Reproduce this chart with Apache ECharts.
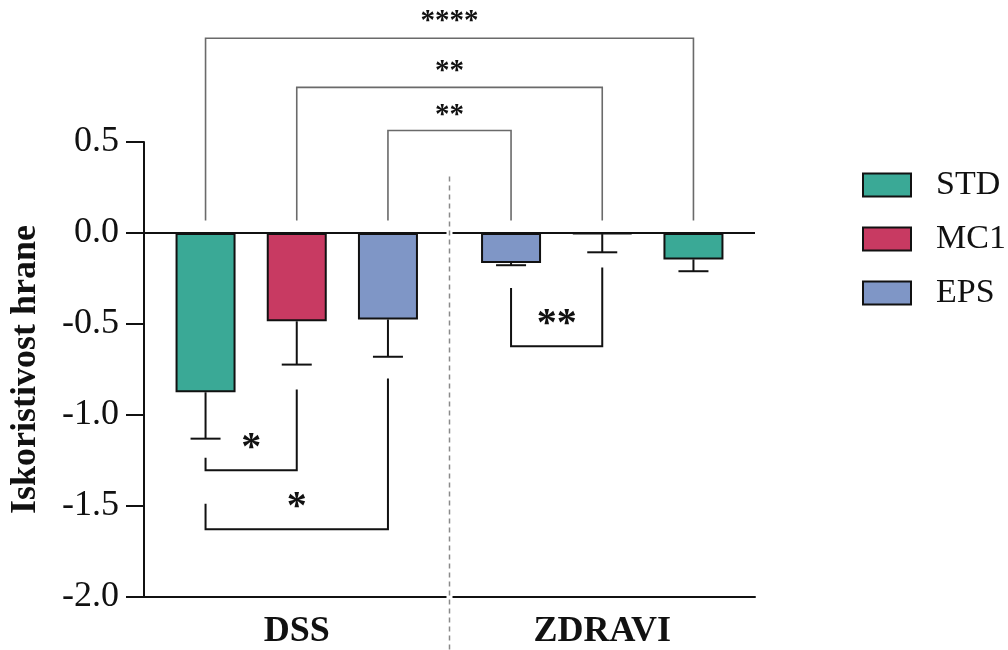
<!DOCTYPE html>
<html>
<head>
<meta charset="utf-8">
<script src="https://cdn.jsdelivr.net/npm/echarts@6/dist/echarts.min.js"></script>
<style>
  html, body { margin: 0; padding: 0; background: #ffffff; }
  #chart { width: 1008px; height: 650px; }
</style>
</head>
<body>
<div id="chart"></div>
<script>
// ---------------- data ----------------
const categories = ['DSS', 'ZDRAVI'];
const treatments = ['STD', 'MC1', 'EPS'];
// order of bars inside each group (left to right)
const groupOrder = [['STD', 'MC1', 'EPS'], ['EPS', 'MC1', 'STD']];
// means per treatment, indexed by category (DSS, ZDRAVI)
const meanSTD = [-0.875, -0.145];
const meanMC1 = [-0.485, -0.006];
const meanEPS = [-0.475, -0.165];
// error (one-sided, downward)
const errSTD = [0.255, 0.065];
const errMC1 = [0.238, 0.100];
const errEPS = [0.205, 0.012];

const yTickMin = -2.0;
const yTickMax = 0.5;
const yTickStep = 0.5;

// significance brackets: [groupIndex, slotIndex] endpoints
const sigLabels  = ['****', '**', '**', '*', '*', '**'];
const sigFrom    = [[0, 0], [0, 1], [0, 2], [0, 0], [0, 0], [1, 0]];
const sigTo      = [[1, 2], [1, 1], [1, 0], [0, 1], [0, 2], [1, 1]];
const sigLevel   = [1.07, 0.80, 0.563, -1.303, -1.628, -0.622];
const sigFromEnd = [0.069, 0.069, 0.069, -1.235, -1.487, -0.302];
const sigToEnd   = [0.069, 0.069, 0.069, -0.860, -0.800, -0.189];
const sigTextY   = [1.18, 0.907, 0.667, -1.157, -1.482, -0.477];

const dividerTop = 0.31;

// ---------------- styles ----------------
const colors = { STD: '#3aa996', MC1: '#c83a62', EPS: '#7f96c6' };
const FONT = "'Liberation Serif', 'Times New Roman', serif";
const BAR_WIDTH = 60;
const BAR_GAP = 0.52;
const CAP_WIDTH = 30;

const means = { STD: meanSTD, MC1: meanMC1, EPS: meanEPS };
const errs = { STD: errSTD, MC1: errMC1, EPS: errEPS };

function slotOffset(slot) {
  return (slot - 1) * BAR_WIDTH * (1 + BAR_GAP);
}

// bar series, one per slot position
const barSeries = [0, 1, 2].map(function (slot) {
  const legendName = groupOrder[0][slot];
  const s = {
    name: legendName,
    type: 'bar',
    barWidth: BAR_WIDTH,
    barGap: (BAR_GAP * 100) + '%',
    itemStyle: { color: colors[legendName], borderColor: '#111', borderWidth: 2 },
    data: categories.map(function (c, g) {
      const t = groupOrder[g][slot];
      return { value: means[t][g], itemStyle: { color: colors[t], borderColor: '#111', borderWidth: 2 } };
    }),
    z: 3,
    animation: false
  };
  if (slot === 0) {
    s.markLine = {
      silent: true,
      symbol: ['none', 'none'],
      label: { show: false },
      lineStyle: { color: '#111', width: 2, type: 'solid' },
      data: [{ yAxis: 0 }],
      animation: false
    };
  }
  return s;
});

// error bar data
const errData = [];
categories.forEach(function (c, g) {
  groupOrder[g].forEach(function (t, slot) {
    errData.push([g, means[t][g], errs[t][g], slot]);
  });
});

const errorSeries = {
  type: 'custom',
  name: 'err',
  clip: false,
  z: 5,
  encode: { x: 0, y: 1 },
  data: errData,
  renderItem: function (params, api) {
    const g = api.value(0);
    const m = api.value(1);
    const e = api.value(2);
    const slot = api.value(3);
    const p0 = api.coord([g, m]);
    const p1 = api.coord([g, m - e]);
    const x = p0[0] + slotOffset(slot);
    return {
      type: 'group',
      children: [
        { type: 'line', shape: { x1: x, y1: p0[1], x2: x, y2: p1[1] },
          style: { stroke: '#111', lineWidth: 2 } },
        { type: 'line', shape: { x1: x - CAP_WIDTH / 2, y1: p1[1], x2: x + CAP_WIDTH / 2, y2: p1[1] },
          style: { stroke: '#111', lineWidth: 2 } }
      ]
    };
  },
  animation: false
};

const sigSeries = {
  type: 'custom',
  name: 'sig',
  clip: false,
  z: 6,
  encode: { x: 0, y: 1 },
  data: sigLabels.map(function (s, i) { return [sigFrom[i][0], sigLevel[i], i]; }),
  renderItem: function (params, api) {
    const i = api.value(2);
    const top = sigLevel[i] > 0;
    const f = sigFrom[i], t = sigTo[i];
    const xa = api.coord([f[0], 0])[0] + slotOffset(f[1]);
    const xb = api.coord([t[0], 0])[0] + slotOffset(t[1]);
    const yl = api.coord([0, sigLevel[i]])[1];
    const ya = api.coord([0, sigFromEnd[i]])[1];
    const yb = api.coord([0, sigToEnd[i]])[1];
    const fs = top ? 29 : 40;
    const yt = api.coord([0, sigTextY[i]])[1] + 0.13 * fs;
    return {
      type: 'group',
      children: [
        { type: 'polyline', shape: { points: [[xa, ya], [xa, yl], [xb, yl], [xb, yb]] },
          style: { stroke: top ? '#6a6a6a' : '#111', lineWidth: top ? 1.6 : 2, fill: null } },
        { type: 'text', x: (xa + xb) / 2, y: yt,
          style: { text: sigLabels[i], font: 'bold ' + fs + 'px ' + FONT, fill: '#111',
                   align: 'center', verticalAlign: 'middle',
                   textAlign: 'center', textVerticalAlign: 'middle' } }
      ]
    };
  },
  animation: false
};

const dividerSeries = {
  type: 'custom',
  name: 'divider',
  clip: false,
  z: 7,
  encode: { x: 0, y: 1 },
  data: [[0, dividerTop]],
  renderItem: function (params, api) {
    const x = (api.coord([0, 0])[0] + api.coord([1, 0])[0]) / 2;
    const y0 = api.coord([0, dividerTop])[1];
    const y1 = api.getHeight();
    return {
      type: 'group',
      children: [
        { type: 'rect', shape: { x: x - 3, y: y0, width: 6, height: y1 - y0 },
          style: { fill: '#ffffff' } },
        { type: 'line', shape: { x1: x, y1: y0, x2: x, y2: y1 },
          style: { stroke: '#8a8a8a', lineWidth: 1.5, lineDash: [5, 4] } }
      ]
    };
  },
  animation: false
};

const chart = echarts.init(document.getElementById('chart'), null, { renderer: 'canvas' });
chart.setOption({
  animation: false,
  backgroundColor: '#ffffff',
  grid: { left: 144, right: 253, top: 142, bottom: 52, containLabel: false },
  legend: {
    data: treatments,
    orient: 'vertical',
    left: 857,
    top: 163,
    itemWidth: 48,
    itemHeight: 23,
    itemGap: 20,
    icon: 'rect',
    selectedMode: false,
    itemStyle: { borderColor: '#111', borderWidth: 2 },
    textStyle: { fontFamily: FONT, fontSize: 34, color: '#111', lineHeight: 34, padding: [0, 0, 0, 20] }
  },
  xAxis: {
    type: 'category',
    data: categories,
    axisLine: { onZero: false, lineStyle: { color: '#111', width: 2 } },
    axisTick: { show: false },
    axisLabel: { fontFamily: FONT, fontSize: 36, fontWeight: 'bold', color: '#111', margin: 17 },
    splitLine: { show: false }
  },
  yAxis: {
    type: 'value',
    min: yTickMin,
    max: yTickMax,
    interval: yTickStep,
    name: 'Iskoristivost hrane',
    nameLocation: 'middle',
    nameRotate: 90,
    nameGap: 100,
    nameTextStyle: { fontFamily: FONT, fontSize: 36, fontWeight: 'bold', color: '#111' },
    axisLine: { show: true, lineStyle: { color: '#111', width: 2 } },
    axisTick: { show: true, length: 18, lineStyle: { color: '#111', width: 2 } },
    axisLabel: {
      fontFamily: FONT, fontSize: 36, color: '#111', margin: 25,
      formatter: function (v) { return v.toFixed(1); }
    },
    splitLine: { show: false }
  },
  series: barSeries.concat([errorSeries, sigSeries, dividerSeries])
});
</script>
</body>
</html>
